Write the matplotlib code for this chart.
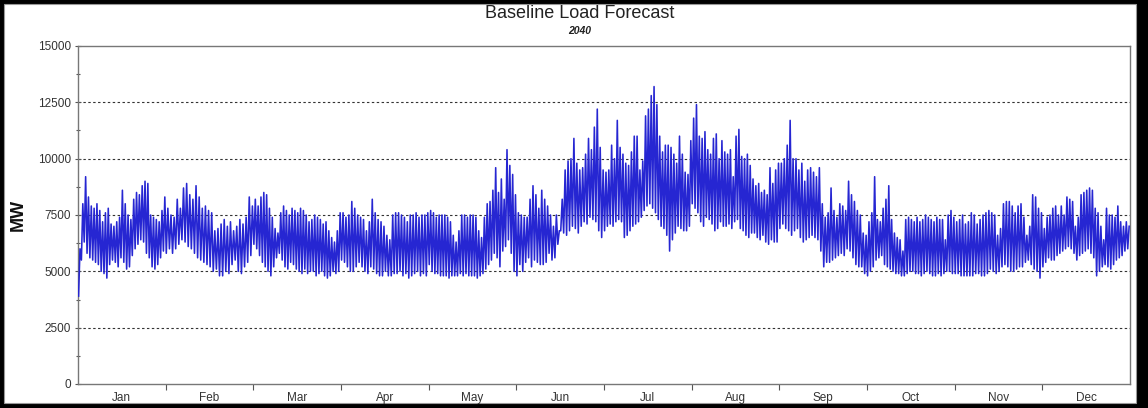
import matplotlib
matplotlib.use("Agg")
import matplotlib.pyplot as plt
from matplotlib.patches import Rectangle
from matplotlib.ticker import MultipleLocator, FixedLocator, NullFormatter
import numpy as np

plt.rcParams['font.family'] = ['Liberation Sans', 'DejaVu Sans']

months = ['Jan', 'Feb', 'Mar', 'Apr', 'May', 'Jun',
          'Jul', 'Aug', 'Sep', 'Oct', 'Nov', 'Dec']

# daily peak / overnight trough, MW
jan_peak = [6000, 8000, 9200, 8300, 7900, 7800, 8000, 7700, 7200, 7600, 7800, 7100, 7000, 7200, 7400, 8600,
            8000, 7500, 7300, 8200, 8500, 8400, 8800, 9000, 8900, 7500, 7400, 7300, 7200, 7700, 8300]
jan_low = [3900, 5500, 6300, 5800, 5600, 5500, 5400, 5300, 5000, 4900, 4700, 5300, 5500, 5400, 5200, 5600,
           5400, 5100, 5200, 5700, 6000, 6200, 6400, 6300, 5800, 5600, 5200, 5100, 5300, 5600, 5900]
feb_peak = [7800, 7500, 7400, 8200, 7800, 8700, 8900, 8400, 8200, 8800, 8300, 7800, 7900, 7700,
            7600, 6800, 6900, 7100, 7300, 7000, 7200, 6800, 7000, 7300, 7100, 7400, 8300, 7900]
feb_low = [5800, 6000, 5800, 6000, 6200, 6400, 6300, 6100, 6000, 5800, 5600, 5500, 5400, 5300,
           5200, 5000, 5100, 4800, 4800, 5000, 4900, 5300, 5500, 5000, 4900, 5200, 5400, 5700]
mar_peak = [8200, 7900, 8300, 8500, 8400, 7800, 7400, 6900, 6700, 7600, 7900, 7700, 7500, 7800, 7700, 7600,
            7800, 7700, 7500, 7200, 7300, 7500, 7400, 7300, 7100, 7200, 6800, 6500, 6300, 6800, 7600]
mar_low = [6200, 6000, 5700, 5400, 5200, 5000, 4800, 5200, 5600, 5800, 5500, 5200, 5100, 5400, 5300, 5100,
           5000, 4900, 5100, 4900, 5000, 5000, 4800, 4900, 5000, 4800, 4700, 4800, 5000, 4900, 5000]
apr_peak = [7600, 7400, 7500, 8100, 7800, 7500, 7400, 7300, 6800, 7200, 8200, 7600, 7300, 7200, 7000,
            6600, 6400, 7500, 7600, 7600, 7500, 7400, 7200, 7500, 7500, 7600, 7400, 7500, 7500, 7600]
apr_low = [5500, 5400, 5200, 5000, 5000, 5200, 5400, 5200, 5000, 4900, 5200, 5100, 4900, 4800, 4800,
           5000, 4800, 4800, 4900, 4900, 5000, 4800, 4900, 4700, 4800, 4900, 5000, 4800, 4900, 4800]
may_peak = [7700, 7600, 7400, 7500, 7500, 7500, 7400, 7200, 6600, 6300, 6800, 7500, 7500, 7400, 7500, 7500,
            7400, 6800, 6500, 7400, 8000, 8100, 8600, 9600, 8500, 9100, 8200, 10400, 9700, 9300, 8400]
may_low = [5300, 5000, 4900, 4900, 4800, 4800, 4800, 4700, 4800, 4800, 4800, 4900, 4800, 4900, 4800, 4800,
           4800, 4700, 4800, 4900, 5100, 5300, 5500, 5800, 5600, 5200, 5900, 6100, 6400, 5800, 5000]
jun_peak = [7600, 7500, 7400, 7400, 8200, 8800, 8400, 7800, 8600, 8200, 7900, 7500, 7000, 7500, 6800,
            8200, 9500, 9900, 10000, 10900, 9800, 9500, 9600, 10200, 10900, 10400, 11400, 12200, 10500, 9500]
jun_low = [4800, 5300, 5000, 5400, 5600, 5200, 5500, 5400, 5300, 5300, 5400, 5800, 5500, 5600, 6200,
           6800, 6700, 6600, 6800, 7000, 6900, 6700, 7000, 7200, 7100, 7400, 7300, 7200, 6800, 6500]
jul_peak = [9400, 9500, 10600, 10000, 11700, 10500, 10200, 9800, 9700, 10300, 11000, 11000, 9500, 9900, 11900, 12200,
            12800, 13200, 12400, 11000, 10300, 10600, 10600, 10500, 10200, 9800, 11000, 10200, 9400, 9300, 10800]
jul_low = [6800, 7000, 7100, 7000, 7200, 7300, 7200, 6500, 6600, 6800, 7000, 7100, 7200, 7400, 7700, 7900,
           8000, 7800, 7600, 7300, 7000, 6900, 6600, 5900, 6400, 6700, 7000, 6900, 6800, 6800, 7000]
aug_peak = [11800, 12400, 11000, 10900, 11200, 10400, 10200, 10900, 11100, 10000, 10800, 10300, 10200, 10400, 9200, 11000,
            11300, 10100, 10000, 10200, 9700, 9100, 8800, 8900, 8500, 8600, 8400, 9600, 8900, 9500, 9800]
aug_low = [8000, 7800, 7600, 7200, 7000, 7400, 7300, 7100, 6800, 6900, 7200, 7000, 7000, 7100, 6900, 7200,
           7300, 6900, 6800, 6600, 6500, 6700, 6700, 6500, 6400, 6600, 6300, 6200, 6400, 6300, 6300]
sep_peak = [9800, 10000, 10600, 11700, 10000, 10000, 9500, 9800, 9000, 9500, 9600, 9400, 9200, 9600, 8000,
            7400, 7600, 8700, 7700, 7400, 8000, 7900, 7700, 9000, 8400, 8100, 7700, 7500, 6700, 6600]
sep_low = [6900, 7100, 6900, 6800, 6600, 6800, 6900, 6500, 6300, 6400, 6500, 6600, 6500, 6400, 5900,
           5200, 5400, 5400, 5500, 5600, 5700, 5800, 5700, 6000, 5900, 5600, 5300, 5200, 5200, 4900]
oct_peak = [7200, 7600, 9200, 7300, 7200, 7800, 8200, 8800, 7300, 6700, 6500, 6400, 5900, 7300, 7400, 7300,
            7200, 7400, 7200, 7300, 7500, 7400, 7300, 7200, 7400, 7300, 7300, 6400, 7500, 7700, 7400]
oct_low = [4800, 5000, 5200, 5500, 5600, 5700, 5300, 5200, 5100, 5000, 4900, 4900, 4800, 4800, 4900, 5000,
           5000, 4900, 4900, 4800, 4900, 5000, 4900, 4800, 4800, 4900, 4800, 4900, 5000, 5000, 4900]
nov_peak = [7200, 7300, 7500, 7100, 7200, 7600, 7500, 7100, 7300, 7500, 7600, 7700, 7600, 7500, 6600,
            6900, 8000, 8100, 8100, 7900, 7600, 7900, 8000, 7400, 6600, 7000, 8400, 8300, 7800, 7600]
nov_low = [4900, 4900, 4800, 4800, 4800, 4800, 4800, 4900, 4900, 4800, 4800, 4900, 5100, 5000, 4900,
           5000, 5200, 5300, 5200, 5000, 5000, 5100, 5200, 5200, 5400, 5500, 5300, 5100, 5000, 4700]
dec_peak = [6900, 7400, 7500, 7800, 7900, 7500, 7900, 7500, 8300, 8200, 8100, 7000, 7400, 8400, 8500, 8600,
            8700, 8600, 7800, 7600, 7000, 6400, 7800, 7500, 7500, 7400, 7900, 7200, 7000, 7200, 7000]
dec_low = [5200, 5400, 5600, 5500, 5500, 5700, 5800, 5900, 6000, 6100, 6000, 5800, 5500, 5700, 5800, 5900,
           6000, 5800, 5600, 4800, 5000, 5200, 5300, 5200, 5100, 5300, 5500, 5600, 5700, 5900, 6000]

peaks = [jan_peak, feb_peak, mar_peak, apr_peak, may_peak, jun_peak,
         jul_peak, aug_peak, sep_peak, oct_peak, nov_peak, dec_peak]
lows = [jan_low, feb_low, mar_low, apr_low, may_low, jun_low,
        jul_low, aug_low, sep_low, oct_low, nov_low, dec_low]

# each month gets an equal slot on the axis; within a day the trough
# comes in the early morning and the peak in the afternoon
xs, ys = [], []
for m in range(12):
    n = len(peaks[m])
    for d in range(n):
        xs += [m + (d + 0.2) / n, m + (d + 0.7) / n]
        ys += [lows[m][d], peaks[m][d]]
xs = np.array(xs)
ys = np.array(ys)

W, H = 1148, 408
fig = plt.figure(figsize=(W / 100, H / 100), dpi=100)
fig.patch.set_facecolor('black')
fig.add_artist(Rectangle((4 / W, 5 / H), (1136 - 4) / W, (404 - 5) / H,
                         transform=fig.transFigure, facecolor='white',
                         edgecolor='#999999', lw=0.8, zorder=-5))

ax = fig.add_axes([78 / W, (H - 384) / H, (1130 - 78) / W, (384 - 46) / H])
ax.plot(xs, ys, color='#2626d2', lw=1.15, zorder=3)

ax.set_xlim(0, 12)
ax.set_ylim(0, 15000)

ax.yaxis.set_major_locator(MultipleLocator(2500))
ax.yaxis.set_minor_locator(MultipleLocator(1250))
ax.yaxis.set_major_formatter(plt.FuncFormatter(lambda v, p: f"{int(v)}"))
for yv in range(2500, 15000, 2500):
    ax.axhline(yv, color='#333333', lw=0.8, ls=(0, (2.2, 2.2)), zorder=1)

# month borders get the tick marks, names sit in the middle
ax.xaxis.set_major_locator(FixedLocator(np.arange(12) + 0.5))
ax.set_xticklabels(months)
ax.xaxis.set_minor_locator(FixedLocator(np.arange(1, 12)))
ax.xaxis.set_minor_formatter(NullFormatter())
ax.tick_params(axis='x', which='major', length=0, pad=6, labelsize=8.5, labelcolor='#333333')
ax.tick_params(axis='x', which='minor', length=4, width=0.8, color='#555555', direction='out')
ax.tick_params(axis='y', which='major', length=4, width=0.8, color='#555555', direction='inout',
               labelsize=8.5, labelcolor='#333333', pad=3)
ax.tick_params(axis='y', which='minor', length=3, width=0.8, color='#555555', direction='inout')

for s in ax.spines.values():
    s.set_color('#777777')
    s.set_linewidth(1.0)

ax.set_ylabel('MW', fontsize=13, fontweight='bold', color='#111111')
ax.yaxis.set_label_coords(-51 / (1130 - 78), 0.5)

fig.text(580 / W, 1 - 14 / H, 'Baseline Load Forecast', ha='center', va='center',
         fontsize=13, color='#222222')
fig.text(580 / W, 1 - 31 / H, '2040', ha='center', va='center',
         fontsize=7.5, fontweight='bold', fontstyle='italic', color='#222222')

fig.savefig('out.png', dpi=100, facecolor=fig.get_facecolor())
